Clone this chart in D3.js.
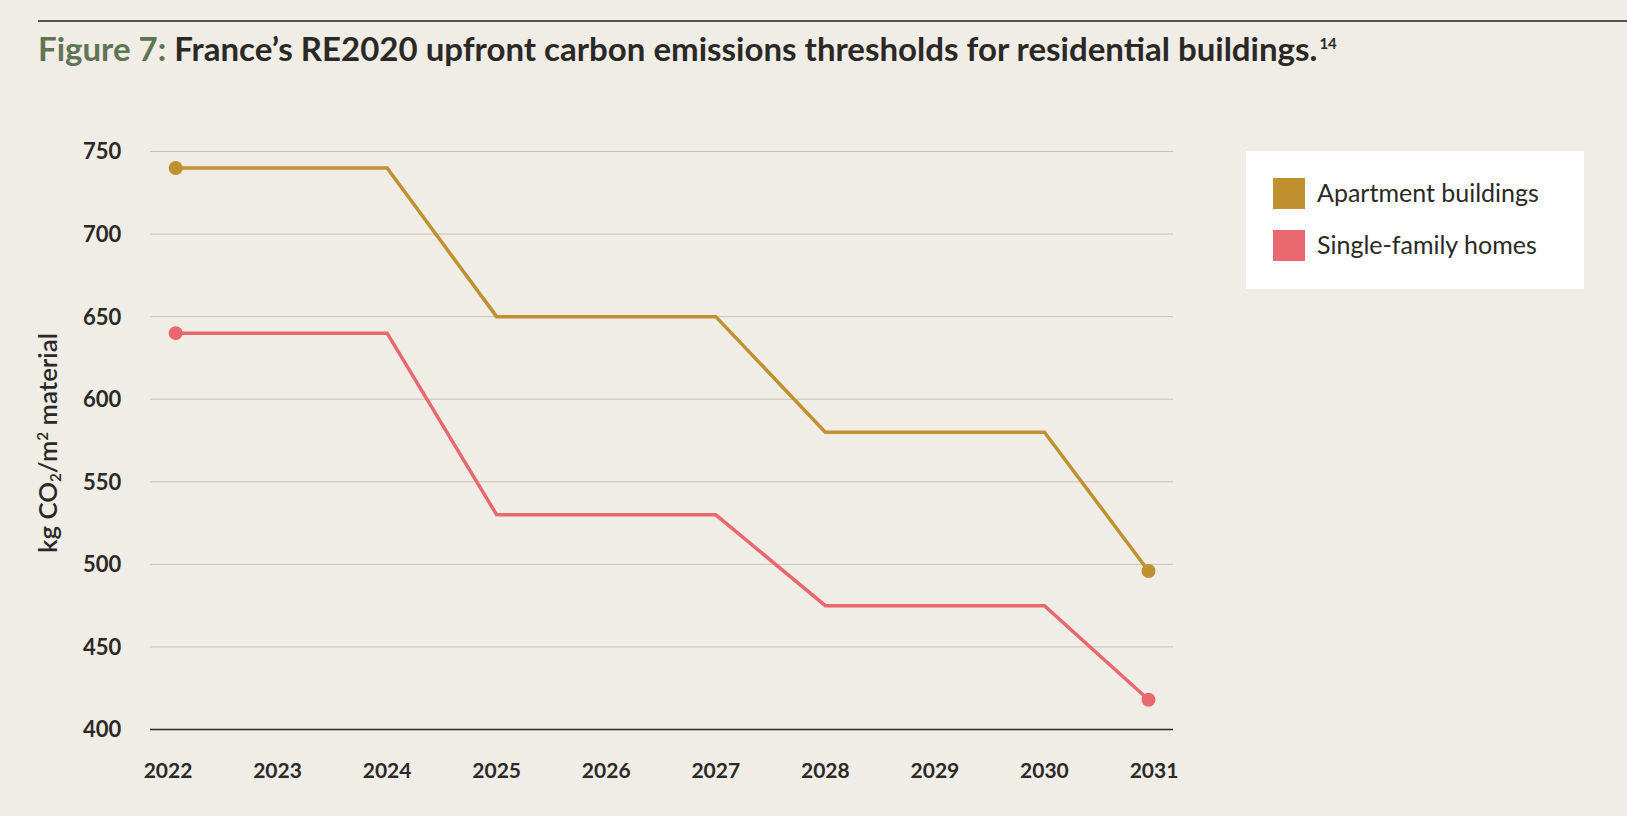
<!DOCTYPE html>
<html>
<head>
<meta charset="utf-8">
<script src="https://cdn.jsdelivr.net/npm/d3@7"></script>
<style>
  html, body { margin: 0; padding: 0; background: #f0ede7; }
  svg { display: block; }
</style>
</head>
<body>
<svg id="chart" width="1627" height="816"></svg>
<script>
// ---- data ----
const years = [2022, 2023, 2024, 2025, 2026, 2027, 2028, 2029, 2030, 2031];
const yTicks = [400, 450, 500, 550, 600, 650, 700, 750];
const seriesNames = ["Apartment buildings", "Single-family homes"];
const stepYears = [2022.07, 2024, 2025, 2027, 2028, 2030, 2030.95];
const apartmentValues = [740, 740, 650, 650, 580, 580, 496];
const singleFamilyValues = [640, 640, 530, 530, 475, 475, 418];
const seriesColors = ["#c0912f", "#e9686f"];
const titleLead = "Figure 7: ";
const titleMain = "France\u2019s RE2020 upfront carbon emissions thresholds for residential buildings.";
const titleNote = "14";

const svg = d3.select("#chart");
const FONT = "Lato, 'Open Sans', sans-serif";
const DARK = "#2a2926";

function fitFont(sel, targetWidth, base) {
  const w = sel.node().getComputedTextLength();
  sel.attr("font-size", base * targetWidth / w);
}

// top rule
svg.append("line").attr("x1", 38).attr("x2", 1627).attr("y1", 21).attr("y2", 21)
  .attr("stroke", "#1e1e1e").attr("stroke-width", 1.5);

// title
const title = svg.append("text").attr("x", 38).attr("y", 61)
  .attr("font-family", FONT).attr("font-weight", 700).attr("font-size", 28);
title.append("tspan").attr("fill", "#5f7553").text(titleLead);
title.append("tspan").attr("fill", DARK).text(titleMain);
fitFont(title, 1280, 28);
const tb = title.node().getBBox();
svg.append("text").attr("x", tb.x + tb.width + 2).attr("y", 49)
  .attr("font-family", FONT).attr("font-weight", 700).attr("font-size", 15)
  .attr("fill", DARK).text(titleNote);

// scales
const x = d3.scaleLinear().domain([2022, 2031]).range([168, 1154]);
const y = d3.scaleLinear().domain([400, 750]).range([729.5, 151.5]);
const gridX0 = 150, gridX1 = 1173;

// gridlines
svg.append("g").selectAll("line").data(yTicks.filter(d => d !== 400)).join("line")
  .attr("x1", gridX0).attr("x2", gridX1)
  .attr("y1", d => y(d)).attr("y2", d => y(d))
  .attr("stroke", "#c9c0b4").attr("stroke-width", 1);
svg.append("line").attr("x1", gridX0).attr("x2", gridX1)
  .attr("y1", y(400)).attr("y2", y(400))
  .attr("stroke", "#2a2926").attr("stroke-width", 1.5);

// y tick labels
svg.append("g").selectAll("text").data(yTicks).join("text")
  .attr("x", 83).attr("y", d => y(d)).attr("dy", "0.36em")
  .attr("font-family", FONT).attr("font-weight", 700).attr("font-size", 22)
  .attr("fill", DARK).text(d => d);

// x tick labels
svg.append("g").selectAll("text").data(years).join("text")
  .attr("x", d => x(d)).attr("y", 778).attr("text-anchor", "middle")
  .attr("font-family", FONT).attr("font-weight", 700).attr("font-size", 21)
  .attr("fill", DARK).text(d => d);

// y axis title
const yt = svg.append("text")
  .attr("transform", "translate(57,443) rotate(-90)")
  .attr("text-anchor", "middle")
  .attr("font-family", FONT).attr("font-weight", 600).attr("font-size", 22)
  .attr("fill", DARK);
yt.append("tspan").text("kg CO");
yt.append("tspan").attr("font-size", 13).attr("dy", 4).text("2");
yt.append("tspan").attr("dy", -4).text("/m");
yt.append("tspan").attr("font-size", 13).attr("dy", -9).text("2");
yt.append("tspan").attr("dy", 9).text(" material");
{
  const w = yt.node().getBBox().width;
  const s = 220 / w;
  yt.attr("font-size", 22 * s);
  yt.selectAll("tspan").filter(function () { return d3.select(this).attr("font-size"); })
    .attr("font-size", 13 * s);
}

// lines
const series = [apartmentValues, singleFamilyValues];
const line = d3.line().x(d => x(d[0])).y(d => y(d[1]));
series.forEach((vals, i) => {
  const pts = stepYears.map((yr, j) => [yr, vals[j]]);
  svg.append("path").datum(pts).attr("d", line)
    .attr("fill", "none").attr("stroke", seriesColors[i])
    .attr("stroke-width", 3.5).attr("stroke-linejoin", "miter");
  svg.append("g").selectAll("circle").data([pts[0], pts[pts.length - 1]]).join("circle")
    .attr("cx", d => x(d[0])).attr("cy", d => y(d[1])).attr("r", 7)
    .attr("fill", seriesColors[i]);
});

// legend
const lg = svg.append("g");
lg.append("rect").attr("x", 1246).attr("y", 151).attr("width", 338).attr("height", 138)
  .attr("fill", "#ffffff");
seriesNames.forEach((name, i) => {
  lg.append("rect").attr("x", 1273).attr("y", 178 + i * 52).attr("width", 32).attr("height", 31)
    .attr("fill", seriesColors[i]);
  const t = lg.append("text").attr("x", 1317).attr("y", 202 + i * 52)
    .attr("font-family", FONT).attr("font-size", 22).attr("fill", DARK).text(name);
  if (i === 0) fitFont(t, 222, 22);
  else t.attr("font-size", lg.select("text").attr("font-size"));
});
</script>
</body>
</html>
